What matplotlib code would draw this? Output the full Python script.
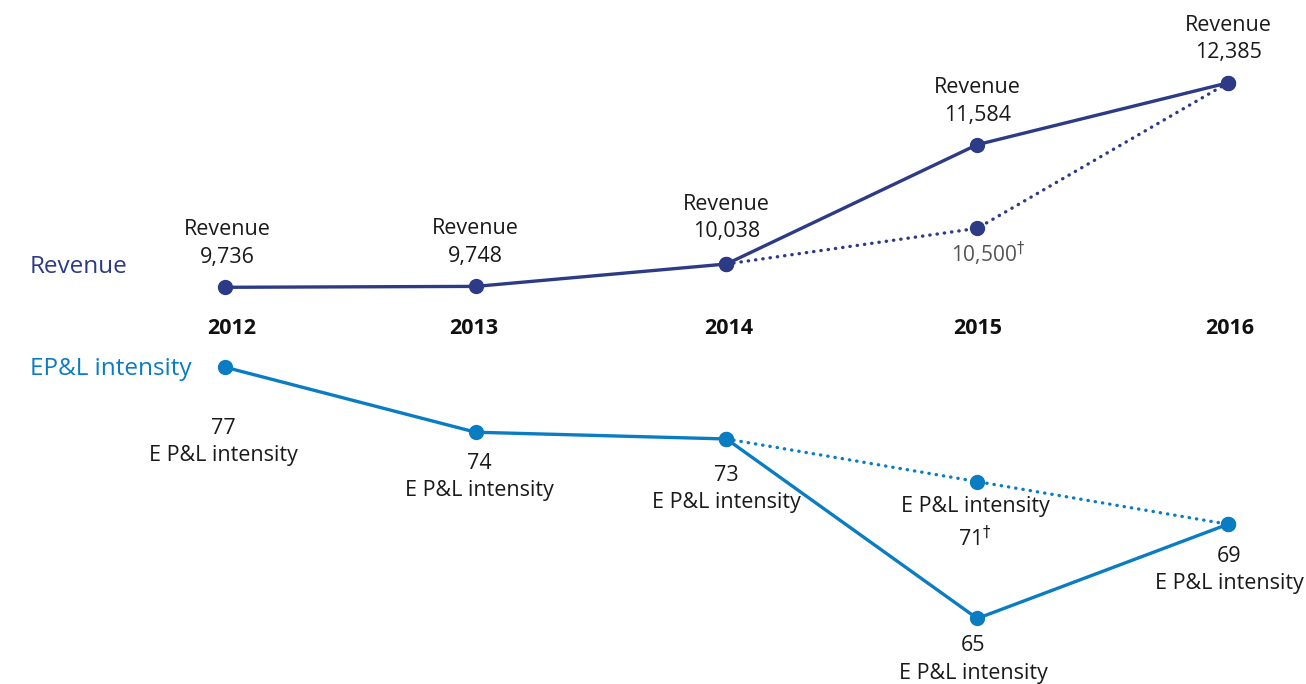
import matplotlib
matplotlib.use('Agg')
import matplotlib.pyplot as plt
from matplotlib import transforms

plt.rcParams['font.family'] = ['Open Sans', 'DejaVu Sans']
plt.rcParams['mathtext.fontset'] = 'dejavusans'

# ---- data ----
years = [2012, 2013, 2014, 2015, 2016]
revenue = [9736, 9748, 10038, 11584, 12385]
revenue_labels = ['9,736', '9,748', '10,038', '11,584', '12,385']
revenue_plan_years = [2014, 2015, 2016]
revenue_plan = [10038, 10500, 12385]
revenue_plan_label = '10,500$^{\\dagger}$'

epl = [76.2, 73.3, 73.0, 65.0, 69.2]
epl_labels = ['77', '74', '73', '65', '69']
epl_plan_years = [2014, 2015, 2016]
epl_plan = [73.0, 71.1, 69.2]
epl_plan_label = '71$^{\\dagger}$'

# ---- style ----
NAVY = '#2d3a86'
BLUE = '#0a7cc2'
TXT = '#1a1a1a'
W, H = 1306, 684

fig = plt.figure(figsize=(W / 100, H / 100), dpi=100)
xlim = (2011.103, 2016.311)

ax1 = fig.add_axes([0, 1 - 310 / H, 1, 310 / H])
ax1.set_xlim(*xlim)
ax1.set_ylim(9442, 13458)
ax1.axis('off')

ax2 = fig.add_axes([0, 0, 1, 344 / H])
ax2.set_xlim(*xlim)
ax2.set_ylim(62.08, 77.41)
ax2.axis('off')

lw = 2.4
ms = 10
dot = (0, (0.1, 2.1))

# revenue
ax1.plot(revenue_plan_years, revenue_plan, color=NAVY, lw=lw, ls=dot,
         dash_capstyle='round', marker='o', ms=ms, zorder=2)
ax1.plot(years, revenue, color=NAVY, lw=lw, marker='o', ms=ms, zorder=3,
         solid_capstyle='round')

# EP&L
ax2.plot(epl_plan_years, epl_plan, color=BLUE, lw=lw, ls=dot,
         dash_capstyle='round', marker='o', ms=ms, zorder=2)
ax2.plot(years, epl, color=BLUE, lw=lw, marker='o', ms=ms, zorder=3,
         solid_capstyle='round')

fs = 15.5
ls_ = 1.4
# revenue value labels (above points)
rev_off = [(2, 44), (0, 44), (0, 46), (0, 43), (0, 44)]
for x, y, lab, (dx, dy) in zip(years, revenue, revenue_labels, rev_off):
    ax1.annotate('Revenue\n' + lab, (x, y), xytext=(dx, dy),
                 textcoords='offset pixels', ha='center', va='center',
                 fontsize=fs, color=TXT, linespacing=ls_)
ax1.annotate(revenue_plan_label, (revenue_plan_years[1], revenue_plan[1]),
             xytext=(11, -26), textcoords='offset pixels', ha='center',
             va='center', fontsize=fs - 0.5, color='#555555')

# EP&L value labels (below points)
epl_off = [(-2, -75), (4, -45), (0, -50), (-4, -41), (1, -46)]
for x, y, lab, (dx, dy) in zip(years, epl, epl_labels, epl_off):
    ax2.annotate(lab + '\nE P&L intensity', (x, y), xytext=(dx, dy),
                 textcoords='offset pixels', ha='center', va='center',
                 fontsize=fs, color=TXT, linespacing=ls_)
ax2.annotate('E P&L intensity\n' + epl_plan_label,
             (epl_plan_years[1], epl_plan[1]), xytext=(-2, -42),
             textcoords='offset pixels', ha='center', va='center',
             fontsize=fs, color=TXT, linespacing=ls_)

# year labels
tr = transforms.blended_transform_factory(ax1.transData, fig.transFigure)
year_dx = [7, -2, 2, 0, 2]
for yr, dx in zip(years, year_dx):
    t = fig.text(yr, 1 - 328 / H, str(yr), transform=tr, ha='center',
                 va='center', fontsize=15.5, fontweight='bold',
                 color='#111111')
    t.set_transform(tr + transforms.ScaledTranslation(dx / 100, 0,
                                                       fig.dpi_scale_trans))

# series names
fig.text(30 / W, 1 - 267 / H, 'Revenue', ha='left', va='center',
         fontsize=17.5, color=NAVY)
fig.text(30 / W, 1 - 369 / H, 'EP&L intensity', ha='left', va='center',
         fontsize=17.5, color=BLUE)

fig.savefig('out.png', dpi=100)
